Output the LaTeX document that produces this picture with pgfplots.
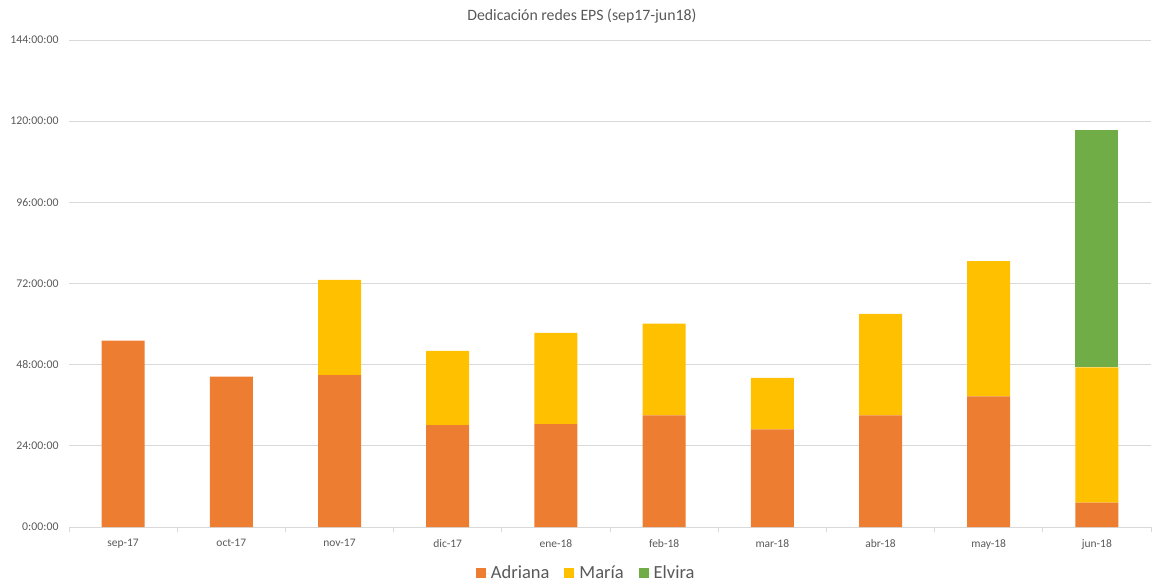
\documentclass[border=0pt]{standalone}
\usepackage{pgfplots}
\pgfplotsset{compat=1.18}
\usepackage{fontspec}
\setmainfont{Carlito}
\usetikzlibrary{calc}
\definecolor{cA}{HTML}{ED7D31}
\definecolor{cM}{HTML}{FFC000}
\definecolor{cE}{HTML}{70AD47}
\definecolor{txt}{HTML}{595959}
\definecolor{gridc}{HTML}{D9D9D9}
\begin{document}
\begin{tikzpicture}
\begin{axis}[
  name=ax, at={(0,0)}, anchor=south west,
  scale only axis, width=1082pt, height=487pt,
  ybar stacked, bar width=43pt,
  xmin=-0.5, xmax=9.5, ymin=0, ymax=144,
  axis x line*=bottom, axis y line*=left,
  y axis line style={draw=none},
  x axis line style={gridc, line width=0.8pt},
  xtick={0,...,9},
  xticklabels={sep-17,oct-17,nov-17,dic-17,ene-18,feb-18,mar-18,abr-18,may-18,jun-18},
  minor xtick={-0.5,0.5,...,9.5},
  tick align=outside,
  major tick length=0pt,
  minor tick length=5pt,
  minor x tick style={gridc, line width=0.8pt},
  ytick={0,24,48,72,96,120,144},
  yticklabels={0:00:00,24:00:00,48:00:00,72:00:00,96:00:00,120:00:00,144:00:00},
  ymajorgrids, grid style={gridc, line width=0.8pt},
  yticklabel style={font=\fontsize{11.8}{13}\selectfont, color=txt, xshift=-7pt},
  xticklabel style={font=\fontsize{11.5}{13}\selectfont, color=txt, yshift=-9pt},
  title={Dedicación redes EPS (sep17-jun18)},
  title style={font=\fontsize{15.8}{18}\selectfont, color=txt, at={(0.474,1)}, anchor=center, yshift=18pt},
  legend style={at={(0.478,-0.0945)}, anchor=center, draw=none, legend columns=-1,
    font=\fontsize{18.5}{21}\selectfont, text=txt,
    /tikz/every even column/.append style={column sep=13pt},
    /tikz/every odd column/.append style={column sep=0pt}},
  legend image code/.code={\fill[#1] (0pt,-5pt) rectangle (10pt,5pt); \path (0pt,0pt) -- (13pt,0pt);},
]
\addplot[fill=cA, draw=none] coordinates {(0,55.1) (1,44.5) (2,44.9) (3,30.1) (4,30.4) (5,33.0) (6,28.9) (7,33.0) (8,38.6) (9,7.2)};
\addplot[fill=cM, draw=none] coordinates {(0,0) (1,0) (2,28.2) (3,22.0) (4,27.0) (5,27.1) (6,15.2) (7,30.0) (8,40.0) (9,40.0)};
\addplot[fill=cE, draw=none] coordinates {(0,0) (1,0) (2,0) (3,0) (4,0) (5,0) (6,0) (7,0) (8,0) (9,70.1)};
\legend{Adriana,María,Elvira}
\end{axis}
\pgfresetboundingbox
\path[use as bounding box] ($(ax.south west)+(-69pt,-57pt)$) rectangle ($(ax.north east)+(1pt,40pt)$);
\end{tikzpicture}
\end{document}
